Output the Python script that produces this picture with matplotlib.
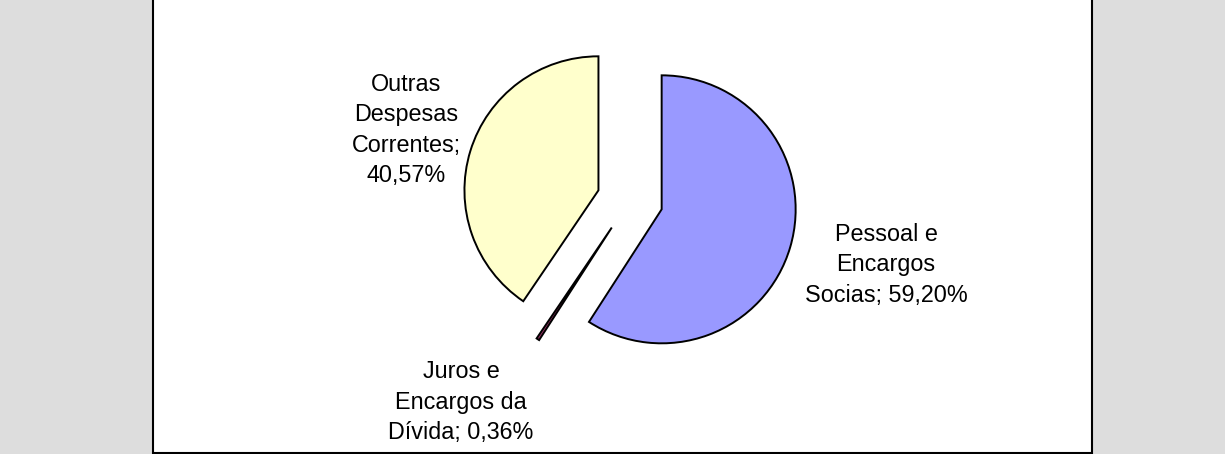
#!/usr/bin/env python3
"""Exploded pie: despesas por grupo de natureza."""

import matplotlib

matplotlib.use("Agg")
import matplotlib.pyplot as plt
from matplotlib.patches import Rectangle

plt.rcParams["font.family"] = ["Liberation Sans", "DejaVu Sans"]

categories = ["Pessoal e\nEncargos\nSocias", "Juros e\nEncargos da\nDívida", "Outras\nDespesas\nCorrentes"]
shares = [59.20, 0.36, 40.57]
colors = ["#9999FF", "#993366", "#FFFFCC"]

W, H = 1225, 454

fig = plt.figure(figsize=(W / 100, H / 100), dpi=100)
fig.patch.set_facecolor("#DDDDDD")
ax = fig.add_axes([0, 0, 1, 1])
ax.set_facecolor("#DDDDDD")

# white chart area, top edge runs off the picture
ax.add_patch(Rectangle((152.5, 1.5), 939, 480, facecolor="white",
                       edgecolor="black", linewidth=1.5, zorder=0))

ax.pie(
    shares,
    colors=colors,
    startangle=90,
    counterclock=False,
    center=(630, 254),
    radius=134,
    explode=[33, 33, 33],
    frame=True,
    wedgeprops=dict(edgecolor="black", linewidth=1.4),
)

# label positions (pixels from left, from top); last label breaks after ";"
label_pos = [(886, 265), (461, 402), (406, 130)]
seps = ["; ", "; ", ";\n"]
for cat, v, sep, (x, y) in zip(categories, shares, seps, label_pos):
    pct = f"{v:.2f}".replace(".", ",") + "%"
    ax.text(x, H - y, cat + sep + pct, ha="center", va="center",
            fontsize=16.8, linespacing=1.42, color="black")

ax.set_xlim(0, W)
ax.set_ylim(0, H)
ax.set_aspect("auto")
ax.axis("off")

fig.savefig("out.png", dpi=100, facecolor=fig.get_facecolor())
